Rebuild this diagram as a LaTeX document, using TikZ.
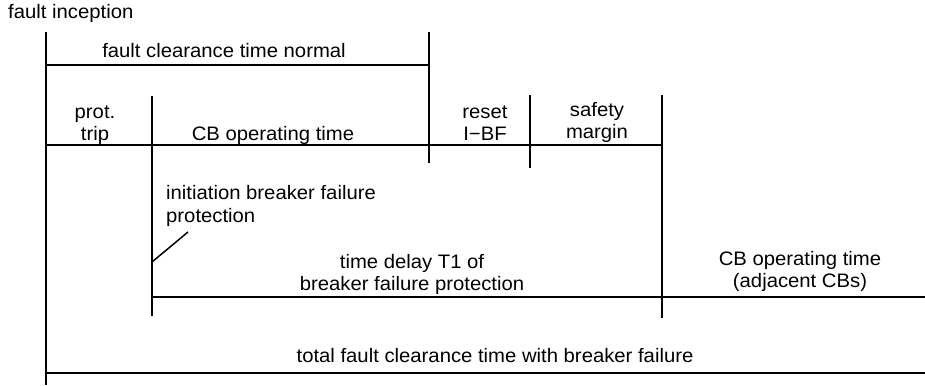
\documentclass[tikz,border=0pt]{standalone}
\usepackage{fontspec}
\setmainfont[FakeStretch=1.04]{Liberation Sans}
\begin{document}
\begin{tikzpicture}[x=1pt,y=-1pt,
  ln/.style={line width=2pt},
  lbl/.style={font=\fontsize{19.5}{22}\selectfont, align=center, inner sep=0pt, anchor=base},
  lbll/.style={font=\fontsize{19.5}{23}\selectfont, align=left, inner sep=0pt, anchor=base west}]
\useasboundingbox (0,0) rectangle (925,385);
% coordinates
\coordinate (v0t) at (46,32);   \coordinate (v0b) at (46,385);
\coordinate (v1t) at (429,32);  \coordinate (v1b) at (429,163);
\coordinate (v2t) at (152,96);  \coordinate (v2b) at (152,316);
\coordinate (v3t) at (530,95);  \coordinate (v3b) at (530,168);
\coordinate (v4t) at (662,95);  \coordinate (v4b) at (662,318);
\coordinate (h1a) at (46,65);   \coordinate (h1b) at (429,65);
\coordinate (h2a) at (46,145);  \coordinate (h2b) at (662,145);
\coordinate (h3a) at (152,297); \coordinate (h3b) at (925,297);
\coordinate (h4a) at (46,373);  \coordinate (h4b) at (925,373);
\coordinate (d1) at (152,262);  \coordinate (d2) at (188,232);
% lines
\draw[ln] (v0t) -- (v0b);
\draw[ln] (v1t) -- (v1b);
\draw[ln] (v2t) -- (v2b);
\draw[ln] (v3t) -- (v3b);
\draw[ln] (v4t) -- (v4b);
\draw[ln] (h1a) -- (h1b);
\draw[ln] (h2a) -- (h2b);
\draw[ln] (h3a) -- (h3b);
\draw[ln] (h4a) -- (h4b);
\draw[line width=1.5pt] (d1) -- (d2);
% texts
\node[lbll] (fi) at (8,19) {fault inception};
\node[lbl] (fct) at (224,58) {fault clearance time normal};
\node[lbl] (pt) at (95,140) {prot.\\trip};
\node[lbl] (cbo) at (273,140) {CB operating time};
\node[lbl] (rst) at (485,140) {reset\\I−BF};
\node[lbl] (sm) at (597,139) {safety\\margin};
\node[lbll] (ibf) at (166,222) {initiation breaker failure\\protection};
\node[lbl] (td) at (412,290) {time delay T1 of\\breaker failure protection};
\node[lbl] (cba) at (800,287) {CB operating time\\(adjacent CBs)};
\node[lbl] (tot) at (495,362) {total fault clearance time with breaker failure};
\end{tikzpicture}
\end{document}
